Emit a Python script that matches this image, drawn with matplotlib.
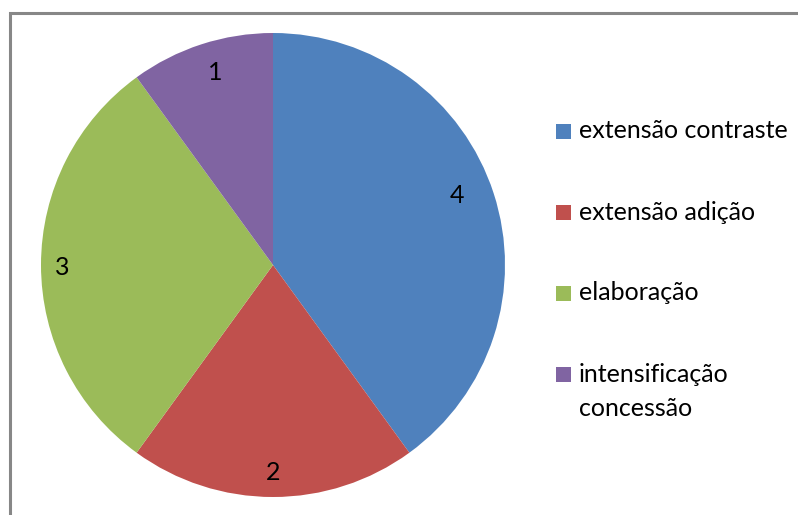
import numpy as np
import matplotlib.pyplot as plt
from matplotlib.patches import Rectangle

categories = ['extensão contraste', 'extensão adição', 'elaboração',
              'intensificação\nconcessão']
values = [4, 2, 3, 1]
colors = ['#4F81BD', '#C0504D', '#9BBB59', '#8064A2']

plt.rcParams['font.family'] = ['Lato', 'DejaVu Sans']

W, H = 798, 515
fig = plt.figure(figsize=(W / 100, H / 100), dpi=100)
fig.patch.set_facecolor('white')

# chart border (runs off the right and bottom edges)
fig.patches.append(Rectangle((10 / W, -0.05), 1.1, 1.05 - 13 / H,
                             transform=fig.transFigure, fill=False,
                             edgecolor='#878787', linewidth=2.2))

ax = fig.add_axes([41 / W, 18 / H, 464 / W, 464 / H])
wedges, texts = ax.pie(values, colors=colors, startangle=90, counterclock=False,
                       labels=[str(v) for v in values],
                       textprops={'fontsize': 18, 'color': 'black'},
                       wedgeprops={'linewidth': 0})

# data labels sit a bit inside the rim (radius, angle nudge in degrees)
label_r = [0.849, 0.894, 0.907, 0.866]
label_nudge = [2.8, 0.0, 0.8, -1.4]
for w, t, r, d in zip(wedges, texts, label_r, label_nudge):
    a = np.deg2rad((w.theta1 + w.theta2) / 2 + d)
    t.set_position((r * np.cos(a), r * np.sin(a)))
    t.set_horizontalalignment('center')
    t.set_verticalalignment('center')
ax.set_xlim(-1, 1)
ax.set_ylim(-1, 1)
ax.set_aspect('equal')
ax.axis('off')

# legend on the right: colour square + label, multi-line labels hang down
for i, (cat, col) in enumerate(zip(categories, colors)):
    yc = 131 + 81 * i
    fig.patches.append(Rectangle((556 / W, 1 - (yc + 7.5) / H), 15 / W, 15 / H,
                                 transform=fig.transFigure, facecolor=col,
                                 edgecolor='none'))
    for j, line in enumerate(cat.split('\n')):
        fig.text(579 / W, 1 - (yc + 35 * j) / H, line, fontsize=18,
                 ha='left', va='center', color='black')

fig.savefig('out.png', dpi=100)
